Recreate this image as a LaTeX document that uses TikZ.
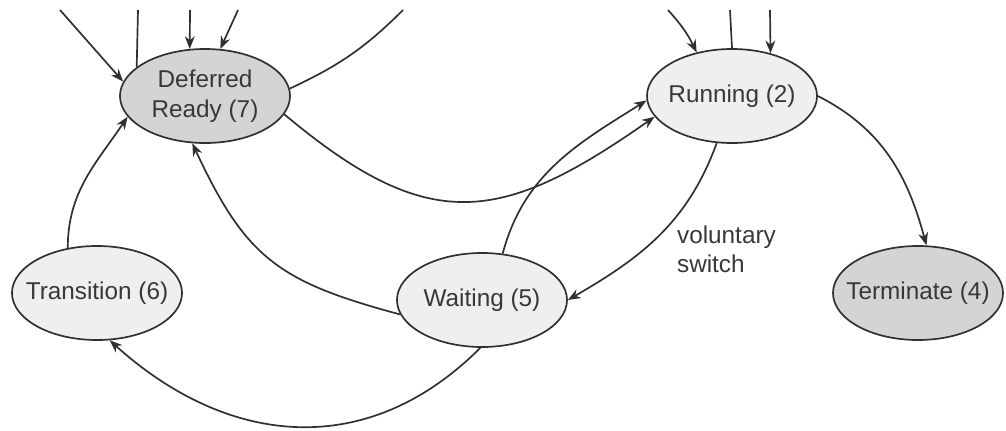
\documentclass[tikz,border=0pt]{standalone}
\usepackage{fontspec}
\setmainfont{Liberation Sans}
\usetikzlibrary{shapes.geometric, arrows.meta}

\definecolor{linecol}{HTML}{303030}
\definecolor{textcol}{HTML}{383838}
\definecolor{lightfill}{HTML}{EFEFEF}
\definecolor{darkfill}{HTML}{D4D4D4}

\begin{document}
\begin{tikzpicture}[
    x=0.025cm, y=0.025cm,
    proc/.style={ellipse, draw=linecol, line width=1.2pt, fill=lightfill, minimum width=4.25cm, minimum height=2.35cm, inner xsep=-0.45cm, inner ysep=0pt, align=center, text=textcol, font=\fontsize{17.3}{21}\selectfont},
    procdark/.style={proc, fill=darkfill},
    arr/.style={->, line width=1.2pt, draw=linecol, >={Stealth[length=9pt, width=7pt]}},
    lnk/.style={line width=1.2pt, draw=linecol}
]
\useasboundingbox (0,0) rectangle (1006,430);

% States
\node[procdark] (defer) at (205,334) {Deferred\\Ready (7)};
\node[proc] (run) at (732,334) {Running (2)};
\node[proc] (trans) at (97,137) {Transition (6)};
\node[proc] (wait) at (482,130) {Waiting (5)};
\node[procdark] (term) at (918,137) {Terminate (4)};

% Loose ends running off the top
\coordinate (d1) at (60,420);
\coordinate (d2) at (138,420);
\coordinate (d3) at (190,420);
\coordinate (d4) at (238,420);
\coordinate (d5) at (403,420);
\coordinate (r1) at (668,420);
\coordinate (r2) at (730,420);
\coordinate (r3) at (770,420);

% Into / out of Deferred Ready at the top
\draw[arr] (d1) -- (defer.170);
\draw[lnk] (defer.157) -- (d2);
\draw[arr] (d3) -- (defer.108);
\draw[arr] (d4) -- (defer.72);
\draw[lnk] (defer.5) to[out=25, in=225] (d5);

% Deferred Ready to Running, under the middle
\draw[arr] (defer.-13) to[out=-40, in=215, looseness=1.3] (run.195);

% Running at the top
\draw[arr] (r1) to[bend left=8] (run.129);
\draw[lnk] (run.north) -- (r2);
\draw[arr] (r3) -- (run.48);

% Running to Terminate
\draw[arr] (run.east) to[out=-27, in=105] (term.80);

% Running down to Waiting
\draw[arr] (run.252) to[out=250, in=30] node[pos=0.6, anchor=west, xshift=0.7cm, align=left, text=textcol, font=\fontsize{17.3}{21}\selectfont] {voluntary\\switch} (wait.east);

% Waiting up to Running
\draw[arr] (wait.66) to[out=75, in=212] (run.183);

% Waiting back to Deferred Ready
\draw[arr] (wait.190) to[out=165, in=-65, looseness=1.2] (defer.255);

% Waiting to Transition, round the bottom
\draw[arr] (wait.268) to[out=225, in=-42, looseness=1.1] (trans.285);

% Transition up to Deferred Ready
\draw[arr] (trans.123) to[out=90, in=236] (defer.195);
\end{tikzpicture}
\end{document}
